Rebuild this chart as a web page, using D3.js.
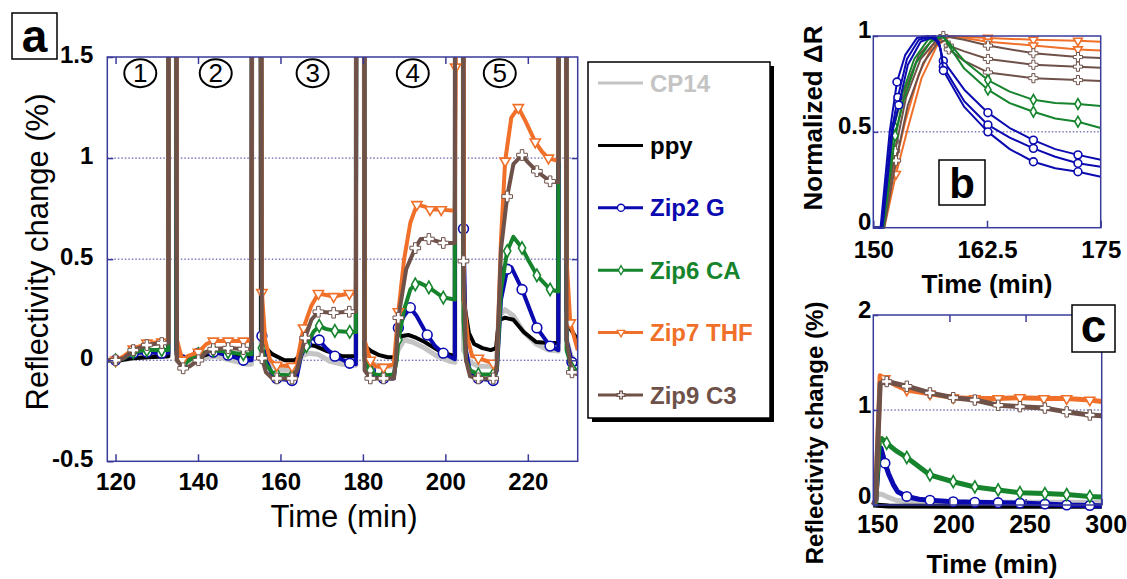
<!DOCTYPE html>
<html><head><meta charset="utf-8">
<script src="https://cdn.jsdelivr.net/npm/d3@7"></script>
<style>body{margin:0;background:#fff} svg{display:block} text{font-family:"Liberation Sans",Arial,sans-serif}</style>
</head><body>
<svg id="chart" width="1127" height="579"></svg>
<script>
// ---------- DATA ----------
const seriesNames = ["CP14", "ppy", "Zip2 G", "Zip6 CA", "Zip7 THF", "Zip9 C3"];
const xTicksA = [120, 140, 160, 180, 200, 220];
const yTicksA = [-0.5, 0, 0.5, 1, 1.5];
const xTicksB = [150, 162.5, 175];
const yTicksB = [0, 0.5, 1];
const xTicksC = [150, 200, 250, 300];
const yTicksC = [0, 1, 2];
const stepLabels = ["1", "2", "3", "4", "5"];
const stepTimes = [126, 144.3, 167.8, 192.1, 213.2];

// panel a: [time, reflectivity change %, marker]
const cp14A = [[118,0],[121,0],[124,0.01],[128,0.02],[132.8,0.02],[133,5],[134.6,5],[134.8,0],[136,-0.02],[138,-0.01],[141,0.01],[144,0.02],[148,0],[152,-0.02],[153,-0.02],[153.2,5],[155,5],[155.3,0.02],[157,-0.01],[159,-0.04],[161,-0.05],[163.5,-0.05],[165,0.02],[167,0.035],[169,0.03],[172,-0.005],[175,-0.02],[178.3,-0.025],[178.5,5],[180.2,5],[180.4,0],[182,-0.02],[185,-0.03],[187.5,-0.03],[188.5,0.05],[190,0.1],[192,0.09],[195,0.06],[198,0.02],[201,-0.005],[202.3,-0.01],[202.5,5],[204.2,5],[204.4,0.05],[206,-0.01],[208,-0.03],[211,-0.03],[212.3,-0.02],[213,0.22],[214.5,0.25],[216.5,0.22],[219,0.14],[222,0.08],[225,0.05],[227.4,0.045],[227.6,5],[229.2,5],[229.4,0.1],[230.5,0.02],[232.1,-0.02]];
const ppyA = [[118,0],[121,0],[124,0.01],[128,0.015],[132.8,0.02],[133,5],[134.6,5],[134.8,0.03],[136,0.02],[138,0.01],[141,0.02],[144,0.04],[148,0.03],[153,0.02],[153.2,5],[155,5],[155.3,0.1],[156.5,0.06],[158,0.03],[160,0.01],[161,0],[163.5,0],[164.5,0.02],[165.5,0.06],[167,0.075],[168.5,0.07],[171.3,0.045],[175,0.02],[178.3,0.02],[178.5,5],[180.2,5],[180.4,0.07],[182,0.045],[184,0.025],[186,0.015],[187.8,0.015],[188.6,0.1],[189.5,0.12],[191,0.125],[193,0.11],[195,0.09],[197,0.065],[199,0.04],[202.3,0.02],[202.5,5],[204.2,5],[204.4,0.3],[205.7,0.135],[207,0.08],[209,0.06],[211,0.05],[212.3,0.06],[213,0.2],[214.5,0.21],[216.5,0.2],[219,0.14],[222,0.09],[225,0.085],[227.4,0.085],[227.6,5],[229.2,5],[229.4,0.25],[230.5,0.15],[232.1,0.1]];
const zip2A = [[118,0],[120,0,1],[122,0.01],[124.3,0.035,1],[127.6,0.04,1],[131.2,0.035,1],[132.8,0.035],[133,5],[134.6,5],[134.8,0.05],[136.4,0,1],[138,0.02],[140.1,0.035,1],[143.7,0.04,1],[147.3,0.025,1],[151,0,1],[153,0],[153.2,5],[155.1,5],[155.5,0.12,1],[156.5,0],[158,-0.07],[159.1,-0.09,1],[162.8,-0.1,1],[164,-0.08],[165,0.02],[166.3,0.08,1],[167.5,0.11],[169.4,0.1,1],[171,0.06],[173.2,0.02,1],[176.8,-0.015,1],[178.3,-0.02],[178.5,5],[180.2,5],[180.4,0.02],[181.8,-0.05,1],[183,-0.08],[185,-0.09,1],[187.5,-0.09],[188,0],[188.6,0.16,1],[190,0.22],[191.5,0.26,1],[193,0.22],[195.6,0.125,1],[197.5,0.07],[199.5,0.035,1],[202.3,0.005],[202.5,5],[204.2,5],[204.4,0.65,1],[205,0.05],[206,-0.06],[208,-0.09,1],[211.6,-0.1,1],[212.5,-0.05],[213.5,0.3],[215,0.45,1],[216,0.46],[218.6,0.35,1],[220.5,0.25],[222.2,0.16,1],[225.4,0.07,1],[227.4,0.05],[227.6,5],[229.2,5],[229.4,0.1],[230.7,-0.01,1],[232.1,-0.02]];
const zip6A = [[118,0],[120,0,1],[122,0.01],[124.3,0.04,1],[127.6,0.05,1],[131.2,0.05,1],[132.8,0.05],[133,5],[134.6,5],[134.8,0.05],[136.4,-0.02,1],[140.1,0.03,1],[143.7,0.05,1],[147.3,0.04,1],[151,0.03,1],[153,0.03],[153.2,5],[155.1,5],[155.5,0.06,1],[156.5,-0.02],[158,-0.06],[159.1,-0.07,1],[162.8,-0.075,1],[164,-0.05],[165,0.03],[166.3,0.07,1],[168,0.14],[169.4,0.17,1],[171,0.155],[173.2,0.145,1],[176.8,0.14,1],[178.3,0.14],[178.5,5],[180.2,5],[180.4,0],[181.8,-0.05,1],[183,-0.07],[185,-0.075,1],[187.5,-0.07],[188.2,0],[188.6,0.1,1],[190,0.25],[191.5,0.35],[192.7,0.375,1],[193.5,0.385],[196,0.36,1],[199.5,0.31,1],[202.3,0.3],[202.5,5],[204.2,5],[204.4,0.2],[205,0],[206,-0.05],[208,-0.07,1],[211.6,-0.07,1],[212.5,-0.04],[213.5,0.35],[215,0.54,1],[216.5,0.61],[218.6,0.555,1],[220,0.5],[222.2,0.42,1],[225.4,0.35,1],[227.4,0.34],[227.6,5],[229.2,5],[229.4,0.05],[230.7,-0.04,1],[232.1,-0.05]];
const zip7A = [[118,0],[120,0,1],[122,0.02],[124.3,0.055,1],[127.6,0.085,1],[131.2,0.09,1],[132.8,0.09],[133,5],[134.6,5],[134.9,0.1],[136.2,0,1],[137.5,0.02],[140.1,0.04,1],[142,0.08],[143.7,0.095,1],[147.3,0.095,1],[151,0.095,1],[153,0.095],[153.2,5],[155.1,5],[155.5,0.335,1],[156.3,0.1],[157.5,0],[159.1,-0.025,1],[162.8,-0.03,1],[164,-0.01],[165.6,0.16,1],[167.5,0.27],[169.2,0.33,1],[172.9,0.315,1],[176.7,0.33,1],[178.3,0.33],[178.5,5],[180.2,5],[180.4,0.1],[181.8,0,1],[183,-0.03],[185,-0.035,1],[187.5,-0.02],[188.6,0.24,1],[190,0.5],[191.5,0.68],[193.1,0.77,1],[195,0.76],[196.3,0.745,1],[199,0.745,1],[202.3,0.74],[202.5,1.45,1],[202.6,5],[204.2,5],[204.5,0.3],[205.5,0.1],[206.5,0.02],[208,0.01,1],[211.6,-0.015,1],[212.5,0],[213.5,0.6],[214.5,0.985,1],[216,1.2],[217.7,1.25,1],[219.5,1.18],[221.8,1.08,1],[223.5,1.03],[225,1,1],[227.4,0.985],[227.6,5],[229.2,5],[229.4,0.5],[230.3,0.185,1],[232.1,0.05]];
const zip9A = [[118,0],[120,0,1],[122,0.01],[124.3,0.05,1],[127.6,0.075,1],[131.2,0.085,1],[132.8,0.085],[133,5],[134.6,5],[134.9,0],[136.4,-0.04,1],[138,-0.03],[140.1,0,1],[142,0.04],[143.7,0.055,1],[147.3,0.06,1],[151,0.055,1],[153,0.055],[153.2,5],[155.1,5],[155.5,0.01,1],[156.5,-0.06],[158,-0.09],[159.1,-0.09,1],[162.8,-0.09,1],[164,-0.05],[166,0.11,1],[167.5,0.2],[169.2,0.24,1],[172.9,0.235,1],[176.7,0.24,1],[178.3,0.24],[178.5,5],[180.2,5],[180.4,-0.05],[181.8,-0.09,1],[185,-0.09,1],[187.5,-0.09],[188,0],[188.6,0.21,1],[190.5,0.45],[192.7,0.555,1],[194,0.6],[196,0.6,1],[199.5,0.58,1],[202.3,0.58],[202.5,5],[204.2,5],[204.4,0.49,1],[205,0],[206,-0.08],[208,-0.09,1],[211.6,-0.09,1],[212.4,-0.05],[213.5,0.55],[215,0.81,1],[216.5,0.97],[218.6,1.015,1],[220,0.98],[222.2,0.935,1],[225.4,0.885,1],[227.4,0.88],[227.6,5],[229.2,5],[229.4,0.1],[230.7,-0.06,1],[232.1,-0.07]];

// panel b: normalized ΔR, several runs per probe
const zip7B = [
  [[150,0],[151,0],[152.4,0.33,1],[153.5,0.55],[155,0.8],[156.5,0.95],[158,1],[162.6,0.99,1],[167.6,0.98,1],[172.5,0.975,1],[175,0.97]],
  [[150,0],[151.2,0],[152.5,0.28,1],[153.8,0.52],[155.3,0.78],[157,0.95],[158.5,1],[160,0.99],[162.6,0.97,1],[167.6,0.95,1],[172.5,0.93,1],[175,0.925]]
];
const zip9B = [
  [[150,0],[151,0],[152.3,0.45,1],[153.5,0.72],[155,0.9],[156.5,0.98],[157.7,1,1],[160,0.98],[162.6,0.95,1],[167.6,0.91,1],[172.5,0.89,1],[175,0.885]],
  [[150,0],[151.1,0],[152.4,0.4,1],[153.6,0.68],[155.2,0.88],[156.8,0.97],[157.9,1],[158.3,0.95,1],[160,0.92],[162.6,0.88,1],[167.6,0.85,1],[172.5,0.84,1],[175,0.835]],
  [[150,0],[151.2,0],[152.5,0.35,1],[153.8,0.64],[155.5,0.86],[157,0.96],[158,0.98],[158.3,0.93,1],[160,0.87],[162.6,0.81,1],[167.6,0.78,1],[172.5,0.77,1],[175,0.765]]
];
const zip6B = [
  [[150,0],[151,0],[152.3,0.53,1],[153.2,0.7],[154.5,0.88],[156,0.98],[157.5,1],[158.2,0.97],[160,0.87],[162.6,0.77,1],[165,0.71],[167.6,0.667,1],[170,0.65],[172.5,0.645,1],[175,0.635]],
  [[150,0],[151.1,0],[152.4,0.48,1],[153.3,0.66],[154.7,0.86],[156.3,0.97],[157.7,1],[158.3,0.95],[160,0.83],[162.6,0.72,1],[165,0.65],[167.6,0.605,1],[170,0.57],[172.5,0.553,1],[175,0.52]]
];
const zip2B = [
  [[150,0],[150.8,0],[151.8,0.5],[152.6,0.76,1],[153.5,0.9],[154.8,0.99],[156,1],[157.2,0.97],[157.7,0.87,1],[160,0.72],[162.6,0.6,1],[165,0.52],[167.6,0.457,1],[170,0.41],[172.5,0.38,1],[175,0.355]],
  [[150,0],[150.9,0],[152,0.5],[152.7,0.68,1],[153.7,0.88],[155,0.98],[156.5,1],[157.3,0.95],[157.7,0.84,1],[160,0.66],[162.6,0.536,1],[165,0.47],[167.6,0.414,1],[170,0.37],[172.5,0.336,1],[175,0.318]],
  [[150,0],[151,0],[152.1,0.5],[152.8,0.64,1],[153.8,0.85],[155.2,0.97],[156.8,1],[157.4,0.93],[157.7,0.82,1],[160,0.63],[162.6,0.5,1],[165,0.41],[167.6,0.344,1],[170,0.31],[172.5,0.292,1],[175,0.266]]
];

// panel c: reflectivity change (%) over long time
const cp14C = [[150,0],[151,0.02],[153,0.12],[156,0.11],[160,0.08],[165,0.05],[172,0.035],[200,0.03],[250,0.03],[300,0.03]];
const ppyC = [[150,0],[160,-0.01],[200,-0.012],[250,-0.012],[300,-0.012]];
const zip2C = [[150,0],[151.5,0.02],[154,0.6],[155,0.6],[157.7,0.44,1],[160,0.33],[163,0.22],[166,0.14],[172,0.09,1],[180,0.06],[187.2,0.05,1],[202.5,0.035,1],[216.7,0.03,1],[232,0.025,1],[246.3,0.02,1],[262.7,0.01,1],[277,0,1],[292.2,-0.005,1],[300,-0.01]];
const zip6C = [[150,0],[151.5,0.02],[154,0.68],[155.5,0.7],[158.8,0.65,1],[165,0.57],[172,0.5,1],[187.2,0.316,1],[202.5,0.245,1],[216.7,0.19,1],[232,0.158,1],[246.3,0.13,1],[262.7,0.12,1],[277,0.11,1],[292.2,0.09,1],[300,0.085]];
const zip7C = [[150,0],[151.5,0.05],[154.5,1.36],[157.7,1.33,1],[165,1.26],[172,1.21,1],[187.2,1.17,1],[202.5,1.13,1],[216.7,1.12,1],[232,1.12,1],[246.3,1.13,1],[262,1.12,1],[277,1.12,1],[292.2,1.105,1],[300,1.09]];
const zip9C = [[150,0],[151.5,0.05],[154.5,1.28],[158.8,1.3,1],[172,1.25,1],[187.2,1.18,1],[202.5,1.13,1],[216.7,1.105,1],[232,1.05,1],[246.3,1.035,1],[262.7,1.02,1],[277,0.98,1],[292.2,0.947,1],[300,0.94]];

// ---------- STYLE ----------
const colors = {"CP14":"#c4c4c4","ppy":"#000000","Zip2 G":"#0a0ab0","Zip6 CA":"#15842c","Zip7 THF":"#f0702a","Zip9 C3":"#6e5149"};
const symbols = {"Zip2 G":[d3.symbolCircle,0,1],"Zip6 CA":[d3.symbolDiamond,0,0.6],"Zip7 THF":[d3.symbolTriangle,180,0.6],"Zip9 C3":[d3.symbolCross,0,0.85]};
const NAVY = "#3b3b9c";
const svg = d3.select("#chart");

function drawSeries(g, data, x, y, name, lw, msize) {
  const col = colors[name];
  g.append("path").datum(data).attr("fill","none").attr("stroke",col)
    .attr("stroke-width",lw).attr("stroke-linejoin","round")
    .attr("d", d3.line().x(d=>x(d[0])).y(d=>y(d[1])));
  const s = symbols[name];
  if (s) {
    g.selectAll(null).data(data.filter(d=>d[2])).join("path")
      .attr("transform", d=>`translate(${x(d[0])},${y(d[1])}) rotate(${s[1]})`)
      .attr("d", d3.symbol(s[0], msize*s[2])())
      .attr("fill","#fff").attr("stroke",col).attr("stroke-width", s[0]===d3.symbolCross?1:1.6);
  }
}
function styleAxis(g, fs) {
  g.select(".domain").remove();
  g.selectAll(".tick line").attr("stroke",NAVY).attr("stroke-width",1.5);
  g.selectAll(".tick text").attr("fill","#000").attr("font-size",fs).attr("font-weight","bold")
    .attr("font-family","'Liberation Sans',Arial,sans-serif");
}
const fmt = d => String(d);

// ---------- PANEL A ----------
const xA = d3.scaleLinear().domain([118, 232.1]).range([107.3, 577.7]);
const yA = d3.scaleLinear().domain([-0.5, 1.5]).range([461.3, 57]);
svg.append("clipPath").attr("id","clipA").append("rect")
  .attr("x",xA.range()[0]).attr("y",yA.range()[1]).attr("width",xA.range()[1]-xA.range()[0]).attr("height",yA.range()[0]-yA.range()[1]);
const gA = svg.append("g");
gA.selectAll(null).data([0,0.5,1]).join("line")
  .attr("x1",xA.range()[0]).attr("x2",xA.range()[1]).attr("y1",d=>yA(d)).attr("y2",d=>yA(d))
  .attr("stroke",NAVY).attr("stroke-width",1).attr("stroke-dasharray","1.5,2");
const plotA = gA.append("g").attr("clip-path","url(#clipA)");
[[cp14A,"CP14"],[ppyA,"ppy"],[zip2A,"Zip2 G"],[zip6A,"Zip6 CA"],[zip7A,"Zip7 THF"],[zip9A,"Zip9 C3"]]
  .forEach(([d,n]) => drawSeries(plotA, d, xA, yA, n, n==="CP14"?5:4, 75));
gA.append("rect").attr("x",xA.range()[0]).attr("y",yA.range()[1])
  .attr("width",xA.range()[1]-xA.range()[0]).attr("height",yA.range()[0]-yA.range()[1])
  .attr("fill","none").attr("stroke",NAVY).attr("stroke-width",1.5);
gA.append("g").attr("transform",`translate(0,${yA.range()[0]})`)
  .call(d3.axisBottom(xA).tickValues(xTicksA).tickSizeInner(-7).tickSizeOuter(0).tickPadding(12).tickFormat(fmt))
  .call(g=>styleAxis(g,24));
gA.append("g").attr("transform",`translate(0,${yA.range()[1]})`)
  .call(d3.axisTop(xA).tickValues(xTicksA).tickSizeInner(-7).tickSizeOuter(0).tickFormat(""))
  .call(g=>styleAxis(g,24));
gA.append("g").attr("transform",`translate(${xA.range()[0]},0)`)
  .call(d3.axisLeft(yA).tickValues(yTicksA).tickSizeInner(-6).tickSizeOuter(0).tickPadding(14).tickFormat(fmt))
  .call(g=>styleAxis(g,24)).call(g=>g.selectAll(".tick text").attr("dy","0.22em"));
gA.append("g").attr("transform",`translate(${xA.range()[1]},0)`)
  .call(d3.axisRight(yA).tickValues([0,0.5,1]).tickSizeInner(-6).tickSizeOuter(0).tickFormat(""))
  .call(g=>styleAxis(g,24));
// step numbers
const steps = gA.selectAll(null).data(stepLabels).join("g")
  .attr("transform",(d,i)=>`translate(${xA(stepTimes[i])},${yA(1.42)})`);
steps.append("ellipse").attr("rx",16).attr("ry",14).attr("fill","none").attr("stroke","#000").attr("stroke-width",2);
steps.append("text").text(d=>d).attr("text-anchor","middle").attr("y",9).attr("font-size",26);
// titles
svg.append("text").text("Reflectivity change (%)").attr("transform","translate(37,252) rotate(-90)")
  .attr("text-anchor","middle").attr("dominant-baseline","central").attr("font-size",31);
svg.append("text").text("Time (min)").attr("x",344).attr("y",527).attr("text-anchor","middle").attr("font-size",31);
// label a
svg.append("rect").attr("x",12).attr("y",13).attr("width",45).attr("height",46).attr("fill","#fff").attr("stroke","#000").attr("stroke-width",1.5);
svg.append("text").text("a").attr("x",34.5).attr("y",52).attr("text-anchor","middle").attr("font-size",46).attr("font-weight","bold");

// ---------- LEGEND ----------
const lg = svg.append("g");
lg.append("rect").attr("x",592).attr("y",66).attr("width",182).attr("height",356).attr("fill","#000");
lg.append("rect").attr("x",588).attr("y",62).attr("width",182).attr("height",356).attr("fill","#fff").attr("stroke","#000").attr("stroke-width",1.5);
const legY = d3.scalePoint().domain(seriesNames).range([83,395]);
const li = lg.selectAll(null).data(seriesNames).join("g").attr("transform",d=>`translate(0,${legY(d)})`);
li.append("line").attr("x1",598).attr("x2",643).attr("stroke",d=>colors[d]).attr("stroke-width",3);
li.filter(d=>symbols[d]).append("path")
  .attr("transform",d=>`translate(621,0) rotate(${symbols[d][1]})`)
  .attr("d",d=>d3.symbol(symbols[d][0], 40*symbols[d][2])())
  .attr("fill","#fff").attr("stroke",d=>colors[d]).attr("stroke-width",1.3);
li.append("text").text(d=>d).attr("x",650).attr("y",8.5).attr("font-size",24).attr("font-weight","bold").attr("fill",d=>colors[d]);

// ---------- PANEL B ----------
const xB = d3.scaleLinear().domain([150,175]).range([873.3,1100.7]);
const yB = d3.scaleLinear().domain([0,1]).range([227.7,36]);
const gB = svg.append("g");
gB.append("line").attr("x1",xB.range()[0]).attr("x2",xB.range()[1]).attr("y1",yB(0.5)).attr("y2",yB(0.5))
  .attr("stroke",NAVY).attr("stroke-dasharray","1.5,2");
zip7B.forEach(d=>drawSeries(gB,d,xB,yB,"Zip7 THF",2,55));
zip9B.forEach(d=>drawSeries(gB,d,xB,yB,"Zip9 C3",2,55));
zip6B.forEach(d=>drawSeries(gB,d,xB,yB,"Zip6 CA",2,55));
zip2B.forEach(d=>drawSeries(gB,d,xB,yB,"Zip2 G",2,48));
gB.append("rect").attr("x",xB.range()[0]).attr("y",yB.range()[1]).attr("width",xB.range()[1]-xB.range()[0]).attr("height",yB.range()[0]-yB.range()[1])
  .attr("fill","none").attr("stroke",NAVY).attr("stroke-width",1.5);
gB.append("g").attr("transform",`translate(0,${yB.range()[0]})`)
  .call(d3.axisBottom(xB).tickValues(xTicksB).tickSizeInner(-7).tickSizeOuter(0).tickPadding(13).tickFormat(fmt))
  .call(g=>styleAxis(g,24));
gB.append("g").attr("transform",`translate(${xB.range()[0]},0)`)
  .call(d3.axisLeft(yB).tickValues(yTicksB).tickSizeInner(-5).tickSizeOuter(0).tickPadding(2).tickFormat(fmt))
  .call(g=>styleAxis(g,24)).call(g=>g.selectAll(".tick text").attr("dy","0.08em"));
svg.append("text").text("Normalized ΔR").attr("transform","translate(813,118) rotate(-90)")
  .attr("text-anchor","middle").attr("dominant-baseline","central").attr("font-size",26).attr("font-weight","bold");
svg.append("text").text("Time (min)").attr("x",987).attr("y",293).attr("text-anchor","middle").attr("font-size",26).attr("font-weight","bold");
svg.append("rect").attr("x",939).attr("y",160).attr("width",46).attr("height",45).attr("fill","#fff").attr("stroke","#000").attr("stroke-width",1.5);
svg.append("text").text("b").attr("x",962).attr("y",198).attr("text-anchor","middle").attr("font-size",42).attr("font-weight","bold");

// ---------- PANEL C ----------
const xC = d3.scaleLinear().domain([150,300]).range([873.3,1101.7]);
const yC = d3.scaleLinear().domain([0,2]).range([505,315]);
const gC = svg.append("g");
gC.append("line").attr("x1",xC.range()[0]).attr("x2",xC.range()[1]).attr("y1",yC(1)).attr("y2",yC(1))
  .attr("stroke",NAVY).attr("stroke-dasharray","1.5,2");
[[cp14C,"CP14"],[ppyC,"ppy"],[zip2C,"Zip2 G"],[zip6C,"Zip6 CA"],[zip7C,"Zip7 THF"],[zip9C,"Zip9 C3"]]
  .forEach(([d,n]) => drawSeries(gC, d, xC, yC, n, 5, 70));
gC.append("rect").attr("x",xC.range()[0]).attr("y",yC.range()[1]).attr("width",xC.range()[1]-xC.range()[0]).attr("height",yC.range()[0]-yC.range()[1])
  .attr("fill","none").attr("stroke",NAVY).attr("stroke-width",1.5);
gC.append("g").attr("transform",`translate(0,${yC.range()[0]})`)
  .call(d3.axisBottom(xC).tickValues(xTicksC).tickSizeInner(-6).tickSizeOuter(0).tickPadding(10).tickFormat(fmt))
  .call(g=>styleAxis(g,25)).call(g=>g.selectAll(".tick text").attr("dx",4));
gC.append("g").attr("transform",`translate(0,${yC.range()[1]})`)
  .call(d3.axisTop(xC).tickValues([200,250]).tickSizeInner(-7).tickSizeOuter(0).tickFormat(""))
  .call(g=>styleAxis(g,25));
gC.append("g").attr("transform",`translate(${xC.range()[0]},0)`)
  .call(d3.axisLeft(yC).tickValues(yTicksC).tickSizeInner(-5).tickSizeOuter(0).tickPadding(2).tickFormat(fmt))
  .call(g=>styleAxis(g,24)).call(g=>g.selectAll(".tick text").attr("dy",d=>d===0?"-0.05em":"0.12em"));
svg.append("text").text("Reflectivity change (%)").attr("transform","translate(814,433) rotate(-90)")
  .attr("text-anchor","middle").attr("dominant-baseline","central").attr("font-size",24).attr("font-weight","bold");
svg.append("text").text("Time (min)").attr("x",992).attr("y",573).attr("text-anchor","middle").attr("font-size",26).attr("font-weight","bold");
svg.append("rect").attr("x",1072).attr("y",305).attr("width",43).attr("height",47).attr("fill","#fff").attr("stroke","#000").attr("stroke-width",1.5);
svg.append("text").text("c").attr("x",1093.5).attr("y",342).attr("text-anchor","middle").attr("font-size",46).attr("font-weight","bold");
</script>
</body></html>
